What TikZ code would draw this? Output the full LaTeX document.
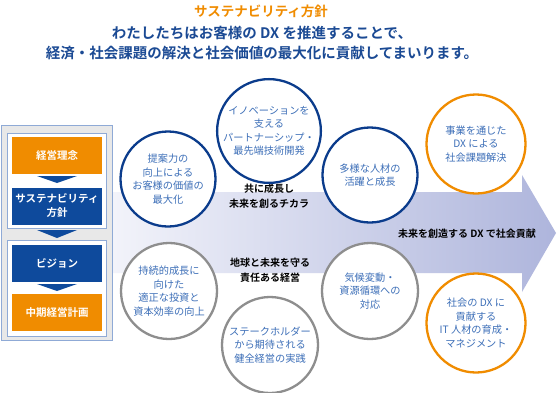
\documentclass[tikz,border=0pt]{standalone}
\usepackage{fontspec}
\setmainfont{Noto Sans CJK JP}[BoldFont={Noto Sans CJK JP Bold}]
\definecolor{myorange}{HTML}{F08C00}
\definecolor{mydarkblue}{HTML}{0E4A9C}
\definecolor{ringblue}{HTML}{0B3C8C}
\definecolor{ringgray}{HTML}{8E8E8E}
\definecolor{txtblue}{HTML}{3D6FB8}
\definecolor{titleblue}{HTML}{1B4A94}
\definecolor{panelgray}{HTML}{E8E8E8}
\definecolor{panelline}{HTML}{8FAAD6}
\definecolor{arrowL}{HTML}{F2F3FA}
\definecolor{arrowR}{HTML}{AEB5DC}
\begin{document}
\begin{tikzpicture}[x=1pt,y=-1pt,
  ring/.style={circle,fill=white,line width=2.3pt,minimum size=#1,inner sep=0pt,align=center,
    text=txtblue,font=\fontsize{10.2}{13.5}\selectfont},
  bluering/.style={ring=95pt,draw=ringblue},
  grayring/.style={ring=96pt,draw=ringgray},
  orangering/.style={ring=99pt,draw=myorange},
  panelbox/.style={minimum width=90pt,minimum height=37pt,inner sep=0pt,align=center,
    text=white,font=\bfseries\fontsize{10.5}{14}\selectfont},
  obox/.style={panelbox,fill=myorange},
  bbox/.style={panelbox,fill=mydarkblue},
  blabel/.style={align=center,font=\bfseries\fontsize{10}{15}\selectfont,text=black},
  tri/.style={fill=mydarkblue},
  title/.style={font=\bfseries\fontsize{14.5}{16}\selectfont}
]
\useasboundingbox (0,0) rectangle (560,392);
\fill[white] (0,0) rectangle (560,392);
% titles
\node[title,text=myorange,font=\bfseries\fontsize{13.5}{16}\selectfont] (t1) at (261,11) {サステナビリティ方針};
\node[title,text=titleblue] (t2) at (262,33) {わたしたちはお客様の DX を推進することで、};
\node[title,text=titleblue] (t3) at (262,53) {経済・社会課題の解決と社会価値の最大化に貢献してまいります。};
% big arrow
\shade[left color=arrowL,right color=arrowR]
  (113,192) -- (522,192) -- (522,175) -- (556,233) -- (522,292) -- (522,273) -- (113,273) -- cycle;
% left panel
\draw[panelline,fill=panelgray,line width=0.8pt] (1,125) rectangle (112,340);
\draw[panelline,fill=white,line width=0.8pt] (7,133) rectangle (106,228);
\draw[panelline,fill=white,line width=0.8pt] (7,240) rectangle (106,336);
\node[obox] (p1) at (57,155) {経営理念};
\node[bbox] (p2) at (57,206) {サステナビリティ\\方針};
\node[bbox] (p3) at (57,263) {ビジョン};
\node[obox] (p4) at (57,312) {中期経営計画};
\fill[tri] (37,176) -- (77,176) -- (57,183) -- cycle;
\fill[tri] (37,230) -- (77,230) -- (57,238) -- cycle;
\fill[tri] (37,284) -- (77,284) -- (57,291) -- cycle;
% labels on arrow
\node[blabel] (l1) at (269,196) {共に成長し\\未来を創るチカラ};
\node[blabel] (l2) at (270,270) {地球と未来を守る\\責任ある経営};
\node[blabel] (l3) at (467,234) {未来を創造する DX で社会貢献};
% circles
\node[bluering] (c1) at (168,179) {提案力の\\向上による\\お客様の価値の\\最大化};
\node[bluering] (c2) at (269,131) {イノベーションを\\支える\\パートナーシップ・\\最先端技術開発};
\node[bluering] (c3) at (370,175) {多様な人材の\\活躍と成長};
\node[orangering] (c4) at (476,144) {事業を通じた\\DX による\\社会課題解決};
\node[grayring] (c5) at (169,291) {持続的成長に\\向けた\\適正な投資と\\資本効率の向上};
\node[grayring] (c6) at (270,345) {ステークホルダー\\から期待される\\健全経営の実践};
\node[grayring] (c7) at (370,291) {気候変動・\\資源循環への\\対応};
\node[orangering] (c8) at (476,323) {社会の DX に\\貢献する\\IT 人材の育成・\\マネジメント};
\end{tikzpicture}
\end{document}
